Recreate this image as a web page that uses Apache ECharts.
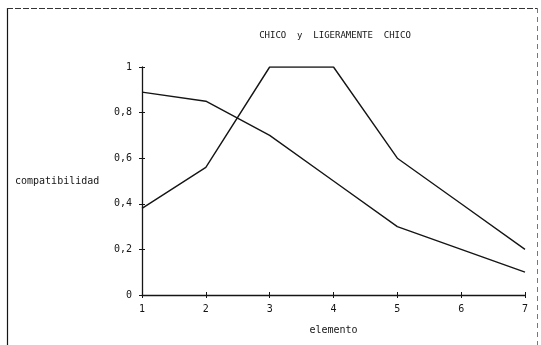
<!DOCTYPE html>
<html>
<head>
<meta charset="utf-8">
<script src="https://cdn.jsdelivr.net/npm/echarts@6/dist/echarts.min.js"></script>
<style>
  html, body { margin: 0; padding: 0; background: #fff; }
  #chart { width: 541px; height: 345px; }
</style>
</head>
<body>
<div id="chart"></div>
<script>
// Elements along the horizontal axis
const elementos = [1, 2, 3, 4, 5, 6, 7];
// Compatibility for "chico" (decreasing curve)
const chico = [0.89, 0.85, 0.70, 0.50, 0.30, 0.20, 0.10];
// Compatibility for "ligeramente chico" (peaked curve)
const ligeramenteChico = [0.38, 0.56, 1.00, 1.00, 0.60, 0.40, 0.20];
// Vertical tick values
const yTicks = [0, 0.2, 0.4, 0.6, 0.8, 1];

const ink = '#151515';
const font = '"DejaVu Sans Mono", "Liberation Mono", monospace';

function pairs(xs, ys) { return xs.map((x, i) => [x, ys[i]]); }
function yLabel(v) {
  const r = Math.round(v * 10) / 10;
  return yTicks.includes(r) ? String(r).replace('.', ',') : '';
}

const chart = echarts.init(document.getElementById('chart'), null, { renderer: 'canvas' });
chart.setOption({
  animation: false,
  backgroundColor: '#ffffff',
  title: {
    text: 'CHICO  y  LIGERAMENTE  CHICO',
    left: 330, top: 26, textAlign: 'center',
    textStyle: { fontFamily: font, fontSize: 9, fontWeight: 'normal', color: ink }
  },
  grid: { left: 142, right: 16, top: 67, bottom: 50 },
  xAxis: [
    {
      type: 'value', min: 1, max: 7, interval: 1,
      name: 'elemento', nameLocation: 'middle', nameGap: 30,
      nameTextStyle: { fontFamily: font, fontSize: 10, color: ink },
      axisLine: { lineStyle: { color: ink, width: 1.3 } },
      axisTick: { length: 3, lineStyle: { color: ink } },
      axisLabel: { fontFamily: font, fontSize: 10, color: ink, margin: 9 },
      splitLine: { show: false }
    },
    {
      // inner half of the cross-shaped ticks
      type: 'value', min: 1, max: 7, interval: 1, position: 'bottom', offset: 0,
      axisLine: { show: false },
      axisTick: { show: true, inside: true, length: 3, lineStyle: { color: ink } },
      axisLabel: { show: false },
      splitLine: { show: false }
    }
  ],
  yAxis: [
    {
      type: 'value', min: 0, max: 1, interval: 0.2,
      name: 'compatibilidad', nameLocation: 'middle', nameRotate: 0, nameGap: 127,
      nameTextStyle: { fontFamily: font, fontSize: 10, color: ink, align: 'left' },
      axisLine: { show: true, lineStyle: { color: ink, width: 1.3 } },
      axisTick: { show: true, length: 3, lineStyle: { color: ink } },
      axisLabel: { fontFamily: font, fontSize: 10, color: ink, margin: 10, formatter: yLabel },
      splitLine: { show: false }
    },
    {
      type: 'value', min: 0, max: 1, interval: 0.2, position: 'left', offset: 0,
      axisLine: { show: false },
      axisTick: { show: true, inside: true, length: 3, lineStyle: { color: ink } },
      axisLabel: { show: false },
      splitLine: { show: false }
    }
  ],
  series: [
    {
      type: 'line', data: pairs(elementos, chico), showSymbol: false,
      lineStyle: { color: ink, width: 1.4 }
    },
    {
      type: 'line', data: pairs(elementos, ligeramenteChico), showSymbol: false,
      lineStyle: { color: ink, width: 1.4 }
    }
  ],
  graphic: [
    { type: 'line', shape: { x1: 7.5, y1: 8, x2: 7.5, y2: 345 }, style: { stroke: ink, lineWidth: 1.2 } },
    { type: 'line', shape: { x1: 7, y1: 8.5, x2: 538, y2: 8.5 }, style: { stroke: '#333', lineWidth: 1, lineDash: [6, 2] } },
    { type: 'line', shape: { x1: 537.5, y1: 8, x2: 537.5, y2: 345 }, style: { stroke: '#777', lineWidth: 1, lineDash: [5, 4] } }
  ]
});
</script>
</body>
</html>
